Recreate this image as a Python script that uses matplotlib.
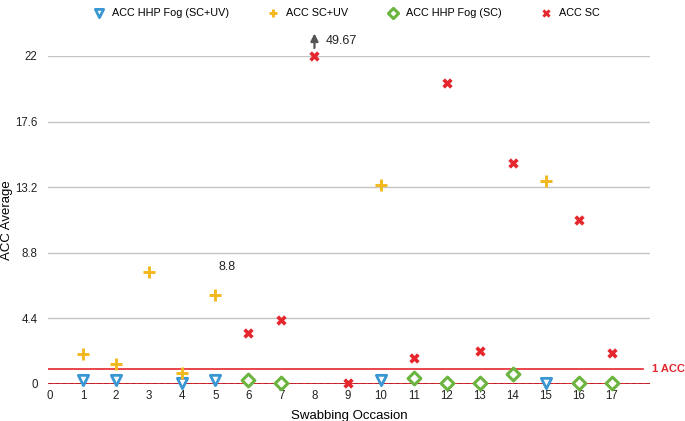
import matplotlib
matplotlib.use("Agg")
import matplotlib.pyplot as plt
import numpy as np

plt.rcParams['font.family'] = ['Liberation Sans', 'DejaVu Sans']

# Data
fog_scuv_x = [1, 2, 4, 5, 10, 15]
fog_scuv_y = [0.3, 0.3, 0.1, 0.25, 0.3, 0.05]

scuv_x = [1, 2, 3, 4, 5, 10, 15]
scuv_y = [2.0, 1.35, 7.5, 0.75, 6.0, 13.35, 13.6]

fog_sc_x = [6, 7, 11, 12, 13, 14, 16, 17]
fog_sc_y = [0.3, 0.1, 0.4, 0.05, 0.05, 0.7, 0.05, 0.05]

sc_x = [6, 7, 8, 9, 11, 12, 13, 14, 16, 17]
sc_y = [3.4, 4.3, 49.67, 0.1, 1.75, 20.2, 2.2, 14.8, 11.0, 2.1]

y_ticks = [0, 4.4, 8.8, 13.2, 17.6, 22]
x_ticks = list(range(0, 18))
y_top = 22

blue = '#3a97d4'
yellow = '#f4b81f'
green = '#6bb43f'
red = '#e5262d'

fig = plt.figure(figsize=(6.85, 4.21), dpi=100)
ax = fig.add_axes([48/685, (421-384)/421, (650-48)/685, 328/421])
ax.set_xlim(-0.06, 18.15)
ax.set_ylim(0, y_top)

for s in ax.spines.values():
    s.set_visible(False)

ax.set_yticks(y_ticks)
ax.set_yticklabels(['0', '4.4', '8.8', '13.2', '17.6', '22'])
ax.set_xticks(x_ticks)
ax.tick_params(axis='both', length=0, labelsize=8.3, colors='#222222')
ax.tick_params(axis='y', pad=7.5)
ax.tick_params(axis='x', pad=4)
ax.yaxis.grid(True, color='#c4c4c4', linewidth=1)
ax.set_axisbelow(True)

# reference lines
ax.axhline(1, color=red, linewidth=1.2, xmax=(643-48)/(650-48), zorder=2)
ax.axhline(0, color=red, linewidth=1.4, zorder=2)
ax.axhline(0, color='black', linewidth=1.0, linestyle=(0, (3, 2)), zorder=2)
ax.text(18.22, 1.0, '1 ACC', color=red, fontsize=8, fontweight='bold',
        va='center', ha='left', clip_on=False)

sc_plot = np.minimum(np.array(sc_y), y_top)

h1 = ax.scatter(fog_scuv_x, fog_scuv_y, marker='v', s=55, facecolors='white',
                edgecolors=blue, linewidths=2, zorder=4, clip_on=False)
h2 = ax.scatter(scuv_x, scuv_y, marker='+', s=65, color=yellow, linewidths=2.1,
                zorder=4, clip_on=False)
h3 = ax.scatter(fog_sc_x, fog_sc_y, marker='D', s=42, facecolors='white',
                edgecolors=green, linewidths=2.2, zorder=4, clip_on=False)
h4 = ax.scatter(sc_x, sc_plot, marker='X', s=55, color=red, linewidths=0,
                zorder=5, clip_on=False)

# annotation for clipped value
ax.annotate('', xy=(8, 23.7), xytext=(8, 22.35),
            arrowprops=dict(arrowstyle='-|>', color='#555555', lw=1.6,
                            mutation_scale=11), annotation_clip=False)
ax.text(8.35, 23.0, '49.67', fontsize=9, va='center', ha='left', color='#222222',
        clip_on=False)
ax.text(5.1, 7.85, '8.8', fontsize=9, va='center', ha='left', color='#222222')

ax.set_xlabel('Swabbing Occasion', fontsize=9.5, labelpad=6)
ax.set_ylabel('ACC Average', fontsize=9.5)
ax.yaxis.set_label_coords(-(48-13)/602, 0.5)

leg = fig.legend([h1, h2, h3, h4],
                 ['ACC HHP Fog (SC+UV)', 'ACC SC+UV', 'ACC HHP Fog (SC)', 'ACC SC'],
                 loc='center', bbox_to_anchor=(346/685, 1 - 13/421), ncol=4, frameon=False,
                 fontsize=7.8, columnspacing=3.5, handletextpad=0.6, handlelength=1.2,
                 scatterpoints=1, markerscale=0.8)

fig.savefig('out.png', dpi=100)
